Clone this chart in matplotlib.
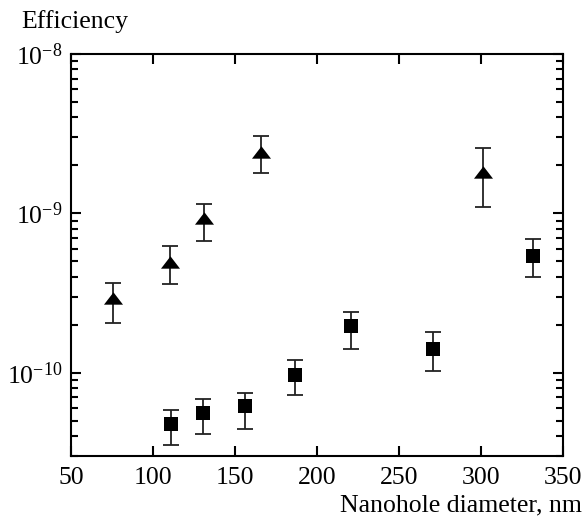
import numpy as np
import matplotlib
matplotlib.use("Agg")
import matplotlib.pyplot as plt
from matplotlib.ticker import LogLocator, NullFormatter, FixedLocator

plt.rcParams["font.family"] = ["Liberation Serif", "DejaVu Serif"]
plt.rcParams["mathtext.fontset"] = "custom"
plt.rcParams["mathtext.rm"] = "Liberation Serif"

# triangles
tri_x = [75.5, 110.5, 131, 166, 301.5]
tri_y = [2.95e-10, 4.97e-10, 9.4e-10, 2.43e-9, 1.82e-9]
tri_hi = [3.68e-10, 6.2e-10, 1.15e-9, 3.06e-9, 2.59e-9]
tri_lo = [2.05e-10, 3.6e-10, 6.7e-10, 1.8e-9, 1.1e-9]

# squares
sq_x = [111, 130.5, 156, 186.5, 221, 271, 331.5]
sq_y = [4.77e-11, 5.58e-11, 6.15e-11, 9.7e-11, 1.95e-10, 1.41e-10, 5.43e-10]
sq_hi = [5.86e-11, 6.87e-11, 7.45e-11, 1.2e-10, 2.39e-10, 1.79e-10, 6.9e-10]
sq_lo = [3.5e-11, 4.1e-11, 4.45e-11, 7.2e-11, 1.41e-10, 1.03e-10, 4.0e-10]

x_ticks = [50, 100, 150, 200, 250, 300, 350]

fig = plt.figure(figsize=(5.87, 5.16), dpi=100)
ax = fig.add_axes([0.121, 0.1163, 0.838, 0.779])

tri_marker = [(0, 0.65), (-1, -0.65), (1, -0.65)]

def draw(xs, ys, hi, lo, marker, ms):
    ys = np.array(ys)
    err = [ys - np.array(lo), np.array(hi) - ys]
    ax.errorbar(xs, ys, yerr=err, fmt="none", ecolor="#222222",
                elinewidth=1.3, capsize=5.5, capthick=1.3, zorder=2)
    ax.plot(xs, ys, linestyle="none", marker=marker, markersize=ms,
            color="black", markeredgewidth=0, zorder=3)

draw(tri_x, tri_y, tri_hi, tri_lo, tri_marker, 13.7)
draw(sq_x, sq_y, sq_hi, sq_lo, "s", 10.5)

ax.set_yscale("log")
ax.set_xlim(50, 350)
ax.set_ylim(3.0e-11, 1e-8)
ax.xaxis.set_major_locator(FixedLocator(x_ticks))
ax.yaxis.set_major_locator(LogLocator(base=10))
ax.yaxis.set_minor_locator(LogLocator(base=10, subs=np.arange(2, 10)))
ax.yaxis.set_minor_formatter(NullFormatter())

for s in ax.spines.values():
    s.set_linewidth(1.5)
ax.tick_params(which="both", direction="in", top=True, right=True,
               width=1.5, labelsize=18.5)
ax.tick_params(which="major", length=7.2)
ax.tick_params(which="minor", length=5)
ax.tick_params(axis="x", pad=8)
ax.tick_params(axis="y", pad=6)

# hide the end tick labels duplicated in corners? keep 50 and 350 labels
fig.text(21 / 587, 1 - 28 / 516, "Efficiency", fontsize=18.5, ha="left", va="baseline")
fig.text(582 / 587, 1 - 511 / 516, "Nanohole diameter, nm", fontsize=18.5,
         ha="right", va="baseline")

fig.savefig("out.png", dpi=100)
